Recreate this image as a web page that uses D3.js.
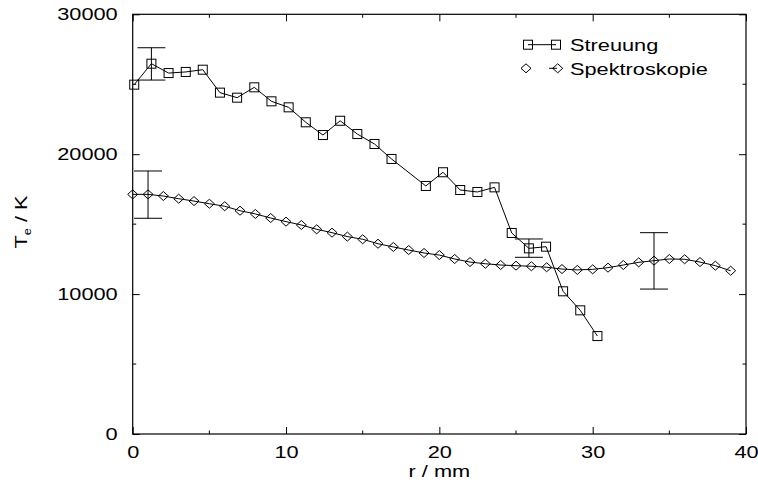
<!DOCTYPE html>
<html><head><meta charset="utf-8">
<script src="https://cdn.jsdelivr.net/npm/d3@7"></script>
<style>
html,body{margin:0;padding:0;background:#fff;}
text{font-family:"Liberation Sans",Arial,Helvetica,sans-serif;fill:#000;}
</style></head>
<body><svg id="c" width="758" height="487"></svg>
<script>
// ---- data ----
const streuungR = [0.1,1.22,2.34,3.46,4.57,5.69,6.81,7.93,9.05,10.17,11.29,12.41,13.53,14.65,15.77,16.88,19.12,20.24,21.36,22.48,23.6,24.72,25.84,26.96,28.07,29.19,30.31];
const streuungT = [24970,26470,25800,25880,26040,24400,24040,24780,23780,23350,22280,21370,22390,21440,20730,19660,17730,18710,17440,17300,17630,14370,13270,13390,10200,8840,7000];
const spektroR = [0,1,2,3,4,5,6,7,8,9,10,11,12,13,14,15,16,17,18,19,20,21,22,23,24,25,26,27,28,29,30,31,32,33,34,35,36,37,38,39];
const spektroT = [17130,17130,17010,16820,16650,16460,16280,15960,15730,15440,15180,14940,14630,14390,14110,13920,13600,13370,13150,12940,12790,12510,12290,12170,12080,12030,11990,11920,11790,11730,11770,11890,12080,12270,12390,12510,12490,12290,12030,11670];
const errStreuR = [1.22,25.84];
const errStreuLo = [25300,12630];
const errStreuHi = [27610,13940];
const errSpekR = [1,34];
const errSpekLo = [15420,10360];
const errSpekHi = [18800,14390];
const xTicks = [0,10,20,30,40];
const yTicks = [0,10000,20000,30000];
const xMinor = [5,15,25,35];
const yMinor = [5000,15000,25000];
const seriesNames = ["Streuung","Spektroskopie"];

// ---- layout ----
const SX = 1.28; // horizontal font stretch
const svg = d3.select("#c");
const x = d3.scaleLinear().domain([0,40]).range([132.7,746]);
const y = d3.scaleLinear().domain([0,30000]).range([434,14.3]);

const axG = svg.append("g");
function styleAxis(g){
  g.select(".domain").remove();
  g.selectAll(".tick line").attr("stroke","#000").attr("stroke-width",1);
}
axG.append("rect").attr("x",x(0)).attr("y",y(30000)).attr("width",x(40)-x(0)).attr("height",y(0)-y(30000))
  .attr("fill","none").attr("stroke","#000").attr("stroke-width",1.2);

const axBottom = axG.append("g").attr("transform",`translate(0,${y(0)})`)
  .call(d3.axisBottom(x).tickValues(xTicks).tickSizeInner(-7).tickSizeOuter(0).tickPadding(12).tickFormat(d3.format("d")));
styleAxis(axBottom);
axBottom.selectAll(".tick text").attr("font-size",17).attr("transform",`scale(${SX},1)`).attr("fill","#000").attr("font-family","Liberation Sans, Arial, sans-serif");
const axTop = axG.append("g").attr("transform",`translate(0,${y(30000)})`)
  .call(d3.axisTop(x).tickValues(xTicks).tickSizeInner(-7).tickSizeOuter(0).tickFormat(""));
styleAxis(axTop);
const axLeft = axG.append("g").attr("transform",`translate(${x(0)},0)`)
  .call(d3.axisLeft(y).tickValues(yTicks).tickSizeInner(-7).tickSizeOuter(0).tickPadding(0).tickFormat(d3.format("d")));
styleAxis(axLeft);
axLeft.selectAll(".tick text").attr("font-size",17).attr("x",-15/SX).attr("transform",`scale(${SX},1)`).attr("fill","#000").attr("font-family","Liberation Sans, Arial, sans-serif");
const axRight = axG.append("g").attr("transform",`translate(${x(40)},0)`)
  .call(d3.axisRight(y).tickValues(yTicks).tickSizeInner(-7).tickSizeOuter(0).tickFormat(""));
styleAxis(axRight);
// minor ticks
const minorG = axG.append("g");
xMinor.forEach(v=>{
  minorG.append("line").attr("x1",x(v)).attr("x2",x(v)).attr("y1",y(0)).attr("y2",y(0)-3.5).attr("stroke","#000");
  minorG.append("line").attr("x1",x(v)).attr("x2",x(v)).attr("y1",y(30000)).attr("y2",y(30000)+3.5).attr("stroke","#000");
});
yMinor.forEach(v=>{
  minorG.append("line").attr("y1",y(v)).attr("y2",y(v)).attr("x1",x(0)).attr("x2",x(0)+3.5).attr("stroke","#000");
  minorG.append("line").attr("y1",y(v)).attr("y2",y(v)).attr("x1",x(40)).attr("x2",x(40)-3.5).attr("stroke","#000");
});

// axis titles
svg.append("text").attr("transform",`translate(${x(20)},477) scale(${SX},1)`).attr("text-anchor","middle").attr("font-size",17).text("r / mm");
const yl = svg.append("text").attr("transform",`translate(27,222) rotate(-90) scale(${SX},1)`).attr("text-anchor","middle").attr("font-size",17);
yl.append("tspan").text("T");
yl.append("tspan").attr("font-size",10).attr("dy",4).text("e");
yl.append("tspan").attr("dy",-4).text(" / K");

// ---- series ----
const plot = svg.append("g");
const line = d3.line().x(d=>x(d[0])).y(d=>y(d[1]));
const sData = streuungR.map((r,i)=>[r,streuungT[i]]);
const dData = spektroR.map((r,i)=>[r,spektroT[i]]);
plot.append("path").attr("d",line(dData)).attr("fill","none").attr("stroke","#000").attr("stroke-width",1);
plot.append("path").attr("d",line(sData)).attr("fill","none").attr("stroke","#000").attr("stroke-width",1);

const sq = 4.5, dw = 5, dh = 4.5;
function square(g,cx,cy){ g.append("rect").attr("x",cx-sq).attr("y",cy-sq).attr("width",2*sq).attr("height",2*sq).attr("fill","none").attr("stroke","#000").attr("stroke-width",1); }
function diamond(g,cx,cy){ g.append("path").attr("d",`M${cx-dw},${cy}L${cx},${cy-dh}L${cx+dw},${cy}L${cx},${cy+dh}Z`).attr("fill","none").attr("stroke","#000").attr("stroke-width",1); }
dData.forEach(d=>diamond(plot,x(d[0]),y(d[1])));
sData.forEach(d=>square(plot,x(d[0]),y(d[1])));

// error bars
function errbar(r,lo,hi){
  const cx=x(r), cw=14;
  plot.append("line").attr("x1",cx).attr("x2",cx).attr("y1",y(lo)).attr("y2",y(hi)).attr("stroke","#000");
  plot.append("line").attr("x1",cx-cw).attr("x2",cx+cw).attr("y1",y(lo)).attr("y2",y(lo)).attr("stroke","#000");
  plot.append("line").attr("x1",cx-cw).attr("x2",cx+cw).attr("y1",y(hi)).attr("y2",y(hi)).attr("stroke","#000");
}
errStreuR.forEach((r,i)=>errbar(r,errStreuLo[i],errStreuHi[i]));
errSpekR.forEach((r,i)=>errbar(r,errSpekLo[i],errSpekHi[i]));

// ---- legend ----
const lg = svg.append("g");
lg.append("line").attr("x1",528).attr("x2",556).attr("y1",44.7).attr("y2",44.7).attr("stroke","#000");
square(lg,528,44.7); square(lg,556,44.7);
lg.append("line").attr("x1",549).attr("x2",557).attr("y1",68.3).attr("y2",68.3).attr("stroke","#000");
diamond(lg,526,68.3); diamond(lg,557.7,68.3);
lg.append("text").attr("transform",`translate(570,51) scale(${SX},1)`).attr("font-size",17).text(seriesNames[0]);
lg.append("text").attr("transform",`translate(570,75) scale(${SX},1)`).attr("font-size",17).text(seriesNames[1]);
</script></body></html>
